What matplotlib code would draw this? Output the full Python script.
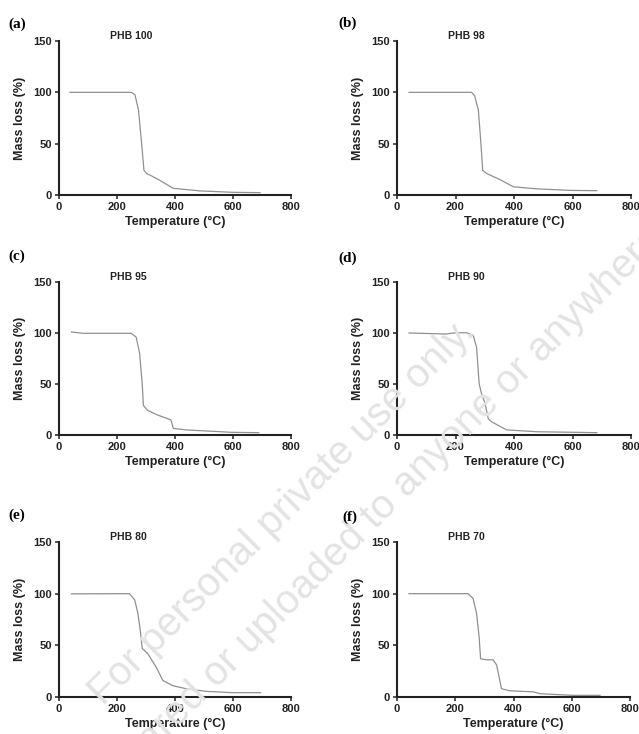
import matplotlib
matplotlib.use('Agg')
import matplotlib.pyplot as plt


# dados (temperatura em °C, massa em %)
temp_phb100 = [38, 250, 262, 274, 285, 293, 302, 337, 394, 486, 601, 693]
mass_phb100 = [100, 100, 97.5, 83, 50, 24, 21, 16, 6.5, 4, 2.6, 2.3]

temp_phb98 = [41, 255, 265, 278, 287, 293, 306, 352, 398, 478, 592, 683]
mass_phb98 = [100, 100, 97, 83, 50, 24, 21, 15, 8, 6, 4.5, 4.2]

temp_phb95 = [43, 83, 249, 266, 278, 287, 291, 306, 341, 375, 386, 394, 438, 598, 689]
mass_phb95 = [101, 99.7, 99.7, 96, 80, 50, 29, 24, 19.5, 16, 14.7, 6.5, 5, 2.6, 2.3]

temp_phb90 = [41, 169, 192, 238, 261, 272, 281, 289, 301, 312, 323, 375, 478, 683]
mass_phb90 = [100, 99, 100, 100.3, 97.4, 86, 50, 40.5, 31, 16, 13, 5, 3.2, 2.3]

temp_phb80 = [43, 243, 261, 272, 280, 287, 306, 335, 358, 392, 438, 506, 598, 695]
mass_phb80 = [99.8, 100, 94, 81, 65, 47, 42, 29, 16, 11, 8, 5.5, 4.2, 4.2]

temp_phb70 = [41, 244, 261, 273, 282, 287, 307, 330, 342, 353, 359, 387, 468, 491, 605, 697]
mass_phb70 = [100, 100, 95.5, 81, 58, 37, 36, 36, 31, 16, 8, 6, 5, 3.2, 1.6, 1.6]

amostras = ['PHB 100', 'PHB 98', 'PHB 95', 'PHB 90', 'PHB 80', 'PHB 70']
letras = ['(a)', '(b)', '(c)', '(d)', '(e)', '(f)']
temps = [temp_phb100, temp_phb98, temp_phb95, temp_phb90, temp_phb80, temp_phb70]
massas = [mass_phb100, mass_phb98, mass_phb95, mass_phb90, mass_phb80, mass_phb70]
ticks_x = [0, 200, 400, 600, 800]
ticks_y = [0, 50, 100, 150]


################################################################################

plt.rcParams['font.family'] = ['Liberation Sans', 'DejaVu Sans']

fig = plt.figure(figsize=(6.39, 7.34), dpi=100)

# posicoes dos eixos em pixels (esquerda, topo, largura, altura)
W, H = 639, 734
caixas = [
    (59, 41, 232, 154), (397, 41, 234, 154),
    (59, 282, 232, 153), (397, 282, 234, 153),
    (59, 542, 232, 155), (397, 542, 233, 155),
]
pos_letras = [(8, 24), (338, 23), (8, 256), (338, 258), (8, 515), (342, 517)]

for i in range(6):
    x0, y0, w, h = caixas[i]
    ax = fig.add_axes([x0 / W, 1 - (y0 + h) / H, w / W, h / H])
    ax.plot(temps[i], massas[i], color='#909090', lw=0.9)
    ax.set_xlim(0, 800)
    ax.set_ylim(0, 150)
    ax.set_xticks(ticks_x)
    ax.set_yticks(ticks_y)
    for s in ['top', 'right']:
        ax.spines[s].set_visible(False)
    for s in ['left', 'bottom']:
        ax.spines[s].set_linewidth(1.5)
        ax.spines[s].set_color('#222222')
    ax.tick_params(direction='out', length=3, width=1.1, labelsize=8, pad=2,
                   colors='#222222')
    for lb in ax.get_xticklabels() + ax.get_yticklabels():
        lb.set_fontweight('bold')
    ax.set_xlabel('Temperature (°C)', fontsize=9, fontweight='bold', labelpad=3,
                  color='#222222')
    ax.set_ylabel('Mass loss (%)', fontsize=9, fontweight='bold', labelpad=5,
                  color='#222222')
    ax.text(0.22, 1.03, amostras[i], transform=ax.transAxes, fontsize=7.5,
            fontweight='bold', ha='left', va='center', color='#222222')
    lx, ly = pos_letras[i]
    fig.text(lx / W, 1 - ly / H, letras[i], family='Liberation Serif',
             fontsize=11, fontweight='bold', ha='left', va='center')

# marca d'agua
fig.text(0.441, 0.302, 'For personal private use only.', rotation=45,
         fontsize=29, color='#e3e3e3', ha='center', va='center', zorder=0)
fig.text(0.513, 0.234, 'Not to be shared or uploaded to anyone or anywhere.',
         rotation=45, fontsize=29, color='#e3e3e3', ha='center', va='center', zorder=0)

plt.savefig('out.png', dpi=100)
